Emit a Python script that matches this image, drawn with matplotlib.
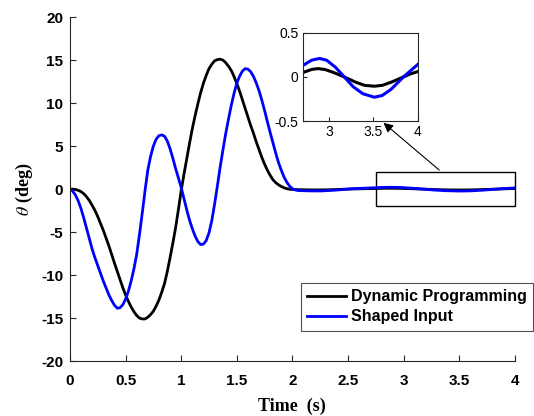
import numpy as np
import matplotlib
matplotlib.use("Agg")
import matplotlib.pyplot as plt
from matplotlib.patches import Rectangle

# ---- data ----
t_dp = [0, 0.025, 0.05, 0.075, 0.1, 0.125, 0.15, 0.175, 0.2, 0.225, 0.25, 0.275, 0.3, 0.325,
        0.35, 0.375, 0.4, 0.425, 0.45, 0.475, 0.5, 0.525, 0.55, 0.575, 0.6, 0.625, 0.65, 0.675,
        0.7, 0.725, 0.75, 0.775, 0.8, 0.825, 0.85, 0.875, 0.9, 0.925, 0.95, 0.975, 1.0, 1.025,
        1.05, 1.075, 1.1, 1.125, 1.15, 1.175, 1.2, 1.225, 1.25, 1.275, 1.3, 1.325, 1.35, 1.375,
        1.4, 1.425, 1.45, 1.475, 1.5, 1.525, 1.55, 1.575, 1.6, 1.625, 1.65, 1.675, 1.7, 1.725,
        1.75, 1.775, 1.8, 1.825, 1.85, 1.875, 1.9, 1.925, 1.95, 1.975, 2.0,
        2.1, 2.2, 2.3, 2.4, 2.5, 2.6, 2.7, 2.8, 2.87, 2.95, 3.05, 3.17, 3.3, 3.4, 3.51, 3.6,
        3.7, 3.84, 3.92, 4.0]
dp = [0, -0.01, -0.05, -0.15, -0.3, -0.55, -0.9, -1.35, -1.9, -2.5, -3.2, -4.0, -4.8, -5.7,
      -6.6, -7.6, -8.6, -9.55, -10.5, -11.45, -12.3, -13.05, -13.7, -14.25, -14.7, -15.0, -15.1, -15.1,
      -14.9, -14.6, -14.2, -13.6, -12.9, -12.0, -11.0, -9.6, -8.0, -6.3, -4.5, -2.4, -0.2, 1.7,
      3.5, 5.3, 7.0, 8.5, 9.9, 11.2, 12.3, 13.2, 14.0, 14.5, 14.9, 15.05, 15.1, 15.0,
      14.7, 14.3, 13.8, 13.1, 12.3, 11.4, 10.4, 9.4, 8.4, 7.4, 6.5, 5.5, 4.6, 3.7,
      2.9, 2.2, 1.6, 1.1, 0.75, 0.5, 0.3, 0.15, 0.05, -0.02, -0.05,
      -0.08, -0.1, -0.09, -0.05, 0.0, 0.03, 0.05, 0.085, 0.095, 0.085, 0.05, 0.0, -0.06, -0.095, -0.105, -0.095,
      -0.06, 0.0, 0.035, 0.06]

t_si = [0, 0.025, 0.05, 0.075, 0.1, 0.125, 0.15, 0.175, 0.2, 0.225, 0.25, 0.275, 0.3, 0.325,
        0.35, 0.375, 0.4, 0.425, 0.45, 0.475, 0.5, 0.525, 0.55, 0.575, 0.6, 0.625, 0.65, 0.675,
        0.7, 0.725, 0.75, 0.775, 0.8, 0.825, 0.85, 0.875, 0.9, 0.925, 0.95, 0.975, 1.0, 1.025,
        1.05, 1.075, 1.1, 1.125, 1.15, 1.175, 1.2, 1.225, 1.25, 1.275, 1.3, 1.325, 1.35, 1.375,
        1.4, 1.425, 1.45, 1.475, 1.5, 1.525, 1.55, 1.575, 1.6, 1.625, 1.65, 1.675, 1.7, 1.725,
        1.75, 1.775, 1.8, 1.825, 1.85, 1.875, 1.9, 1.925, 1.95, 1.975, 2.0, 2.025, 2.05,
        2.15, 2.25, 2.35, 2.45, 2.5, 2.6, 2.7, 2.8, 2.89, 2.97, 3.07, 3.17, 3.27, 3.38, 3.51,
        3.6, 3.7, 3.77, 3.84, 3.92, 4.0]
si = [0, -0.25, -0.7, -1.4, -2.3, -3.4, -4.6, -5.8, -7.0, -8.0, -8.9, -9.8, -10.7, -11.5,
      -12.3, -12.95, -13.5, -13.85, -13.8, -13.45, -12.8, -11.9, -10.7, -9.3, -7.6, -5.3, -2.8, -0.2,
      2.2, 3.8, 5.0, 5.8, 6.2, 6.3, 6.15, 5.6, 4.7, 3.6, 2.4, 1.3, 0.2, -1.1,
      -2.4, -3.6, -4.6, -5.45, -6.1, -6.45, -6.4, -6.0, -5.1, -3.7, -1.8, 0.3, 2.5, 4.5,
      6.4, 8.1, 9.7, 11.1, 12.3, 13.1, 13.7, 14.0, 13.95, 13.65, 13.1, 12.35, 11.45, 10.35,
      9.15, 7.85, 6.6, 5.4, 4.2, 3.1, 2.2, 1.4, 0.8, 0.35, 0.05, -0.1, -0.17,
      -0.21, -0.22, -0.16, -0.06, 0.0, 0.08, 0.13, 0.19, 0.21, 0.19, 0.11, 0.0, -0.11, -0.19, -0.23,
      -0.21, -0.14, -0.07, 0.0, 0.07, 0.14]

xticks = [0, 0.5, 1, 1.5, 2, 2.5, 3, 3.5, 4]
yticks = [-20, -15, -10, -5, 0, 5, 10, 15, 20]

plt.rcParams['font.family'] = ['Liberation Sans', 'DejaVu Sans']
plt.rcParams['mathtext.fontset'] = 'stix'

fig = plt.figure(figsize=(5.34, 4.16), dpi=100)
ax = fig.add_axes([0.131, 0.132, 0.833, 0.827])

ax.plot(t_dp, dp, color='black', lw=2, label='Dynamic Programming')
ax.plot(t_si, si, color='blue', lw=2, label='Shaped Input')
ax.set_xlim(0, 4)
ax.set_ylim(-20, 20)
ax.set_xticks(xticks)
ax.set_xticklabels([('%g' % v) for v in xticks], fontweight='bold', fontsize=11)
ax.set_yticks(yticks)
ax.set_yticklabels([('%g' % v) for v in yticks], fontweight='bold', fontsize=11)
ax.tick_params(direction='in', length=4, color='#262626')
ax.tick_params(axis='x', pad=9)
ax.tick_params(axis='y', pad=5)
for s in ['top', 'right']:
    ax.spines[s].set_visible(False)
for s in ['left', 'bottom']:
    ax.spines[s].set_color('#262626')

ax.set_xlabel('Time  (s)', family='Liberation Serif', fontweight='bold', fontsize=13, labelpad=7)
ax.set_ylabel(r'$\theta$ (deg)', family='Liberation Serif', fontweight='bold', fontsize=13, labelpad=4)

# zoom box
ax.add_patch(Rectangle((2.75, -2), 1.25, 4, fill=False, ec='black', lw=1.0, clip_on=False))

leg = ax.legend(loc='upper left', bbox_to_anchor=(301 / 534, 1 - 283 / 416), bbox_transform=fig.transFigure,
                prop={'weight': 'bold', 'size': 11.5}, frameon=True, fancybox=False,
                handlelength=2.4, handletextpad=0.3, borderpad=0.4, labelspacing=0.3,
                borderaxespad=0)
leg.get_frame().set_edgecolor('#262626')
leg.get_frame().set_linewidth(0.8)

# inset
ax_in = fig.add_axes([0.567, 0.709, 0.215, 0.212])
ax_in.plot(t_dp, dp, color='black', lw=2.2)
ax_in.plot(t_si, si, color='blue', lw=2.2)
ax_in.set_xlim(2.7, 4)
ax_in.set_ylim(-0.5, 0.5)
ax_in.set_xticks([3, 3.5, 4])
ax_in.set_xticklabels(['3', '3.5', '4'])
ax_in.set_yticks([-0.5, 0, 0.5])
ax_in.set_yticklabels(['-0.5', '0', '0.5'])
ax_in.tick_params(direction='in', length=3, labelsize=10, color='#262626', pad=3)
for s in ax_in.spines.values():
    s.set_color('#262626')

ax.annotate('', xy=(3.59, -0.5), xycoords=ax_in.transData,
            xytext=(3.34, 2.0), textcoords=ax.transData,
            arrowprops=dict(arrowstyle='-|>', color='black', lw=0.8, mutation_scale=14))

fig.savefig('out.png', dpi=100)
